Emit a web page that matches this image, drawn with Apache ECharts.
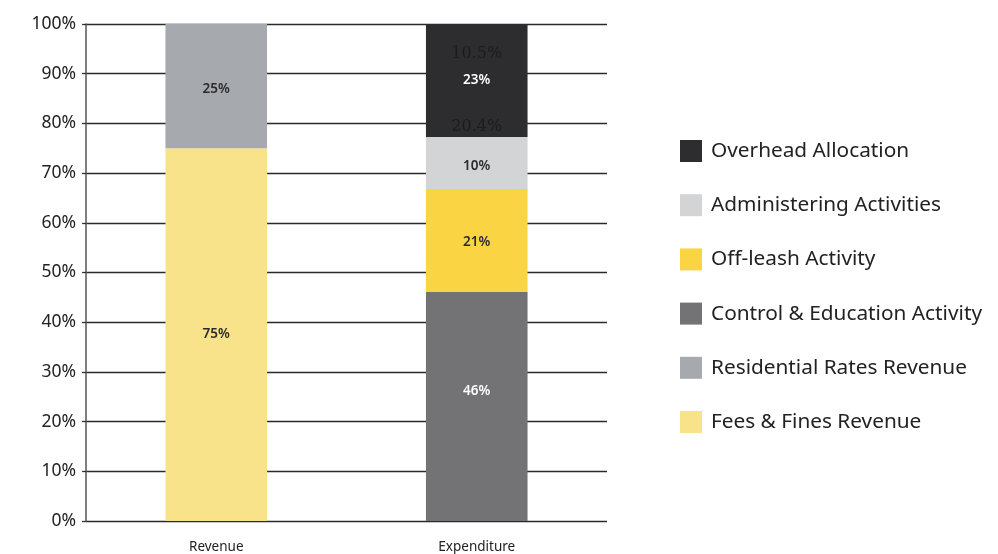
<!DOCTYPE html>
<html lang="en">
<head>
    <meta charset="UTF-8">
    <title>Revenue vs Expenditure</title>
    <script type="text/javascript" src="https://cdn.jsdelivr.net/npm/echarts@6/dist/echarts.min.js"></script>
    <style>
        html, body { margin: 0; padding: 0; background: #fff; }
    </style>
</head>
<body>
    <div id="div_echars" style="width: 998px;height:554px;"></div>
    <script type="text/javascript">
        // data (percent of total, labels are shown rounded)
        var categories = ['Revenue', 'Expenditure'];
        var feesFines = [75, null];
        var residentialRates = [25, null];
        var controlEducation = [null, 46.1];
        var offLeash = [null, 20.7];
        var administering = [null, 10.45];
        var overhead = [null, 22.75];
        var yTicks = [0, 10, 20, 30, 40, 50, 60, 70, 80, 90, 100];
        // stray labels left over on the expenditure bar
        var strayLabels = ['10.5%', '20.4%'];
        var strayY = [94.0, 79.4];

        var font = 'Noto Sans';

        function seg(name, data, color, labelColor, dy) {
            return {
                name: name,
                type: 'bar',
                stack: 'total',
                barWidth: '39%',
                data: data,
                itemStyle: {color: color},
                label: {
                    show: true,
                    position: 'inside',
                    offset: [0, dy || 0],
                    formatter: function (p) { return Math.round(p.value) + '%'; },
                    color: labelColor,
                    fontFamily: font,
                    fontSize: 13.5,
                    fontWeight: 600
                }
            };
        }

        var series = [
            seg('Fees & Fines Revenue', feesFines, '#f8e38a', '#2b2b2b', 0),
            seg('Residential Rates Revenue', residentialRates, '#a6a9ae', '#2b2b2b', 3),
            seg('Control & Education Activity', controlEducation, '#737376', '#ffffff', -15),
            seg('Off-leash Activity', offLeash, '#fad443', '#2b2b2b', 2),
            seg('Administering Activities', administering, '#d3d4d6', '#2b2b2b', 3),
            seg('Overhead Allocation', overhead, '#2d2c2e', '#ffffff', 0)
        ];
        series[5].markPoint = {
            symbol: 'rect',
            symbolSize: 1,
            itemStyle: {color: 'rgba(0,0,0,0)'},
            silent: true,
            label: {
                show: true,
                position: 'inside',
                color: '#1c1c1c',
                fontFamily: 'DejaVu Serif',
                fontSize: 16,
                formatter: function (p) { return p.name; }
            },
            data: strayLabels.map(function (t, i) {
                return {name: t, coord: ['Expenditure', strayY[i]]};
            })
        };

        var myChart = echarts.init(document.getElementById('div_echars'));
        var option = {
            animation: false,
            textStyle: {fontFamily: font},
            grid: {left: 86, right: 391, top: 24, bottom: 33, containLabel: false},
            legend: {
                orient: 'vertical',
                left: 675,
                top: 135,
                itemWidth: 22,
                itemHeight: 22,
                itemGap: 32.2,
                icon: 'rect',
                data: ['Overhead Allocation', 'Administering Activities', 'Off-leash Activity',
                    'Control & Education Activity', 'Residential Rates Revenue', 'Fees & Fines Revenue'],
                textStyle: {fontFamily: font, fontSize: 20.8, color: '#222', padding: [0, 0, 0, 4]}
            },
            xAxis: {
                type: 'category',
                data: categories,
                axisLine: {show: false},
                axisTick: {show: false},
                axisLabel: {color: '#222', fontSize: 13.5, margin: 19, fontFamily: font}
            },
            yAxis: {
                type: 'value',
                min: yTicks[0],
                max: yTicks[yTicks.length - 1],
                interval: 10,
                axisLine: {show: true, lineStyle: {color: '#555', width: 1.5}},
                axisTick: {show: true, length: 4, lineStyle: {color: '#333', width: 1.3}},
                axisLabel: {formatter: '{value}%', color: '#222', fontSize: 17.5, margin: 10, fontFamily: font},
                splitLine: {show: true, lineStyle: {color: '#2a2a2a', width: 1.3}}
            },
            series: series
        };
        myChart.setOption(option);
    </script>
</body>
</html>
